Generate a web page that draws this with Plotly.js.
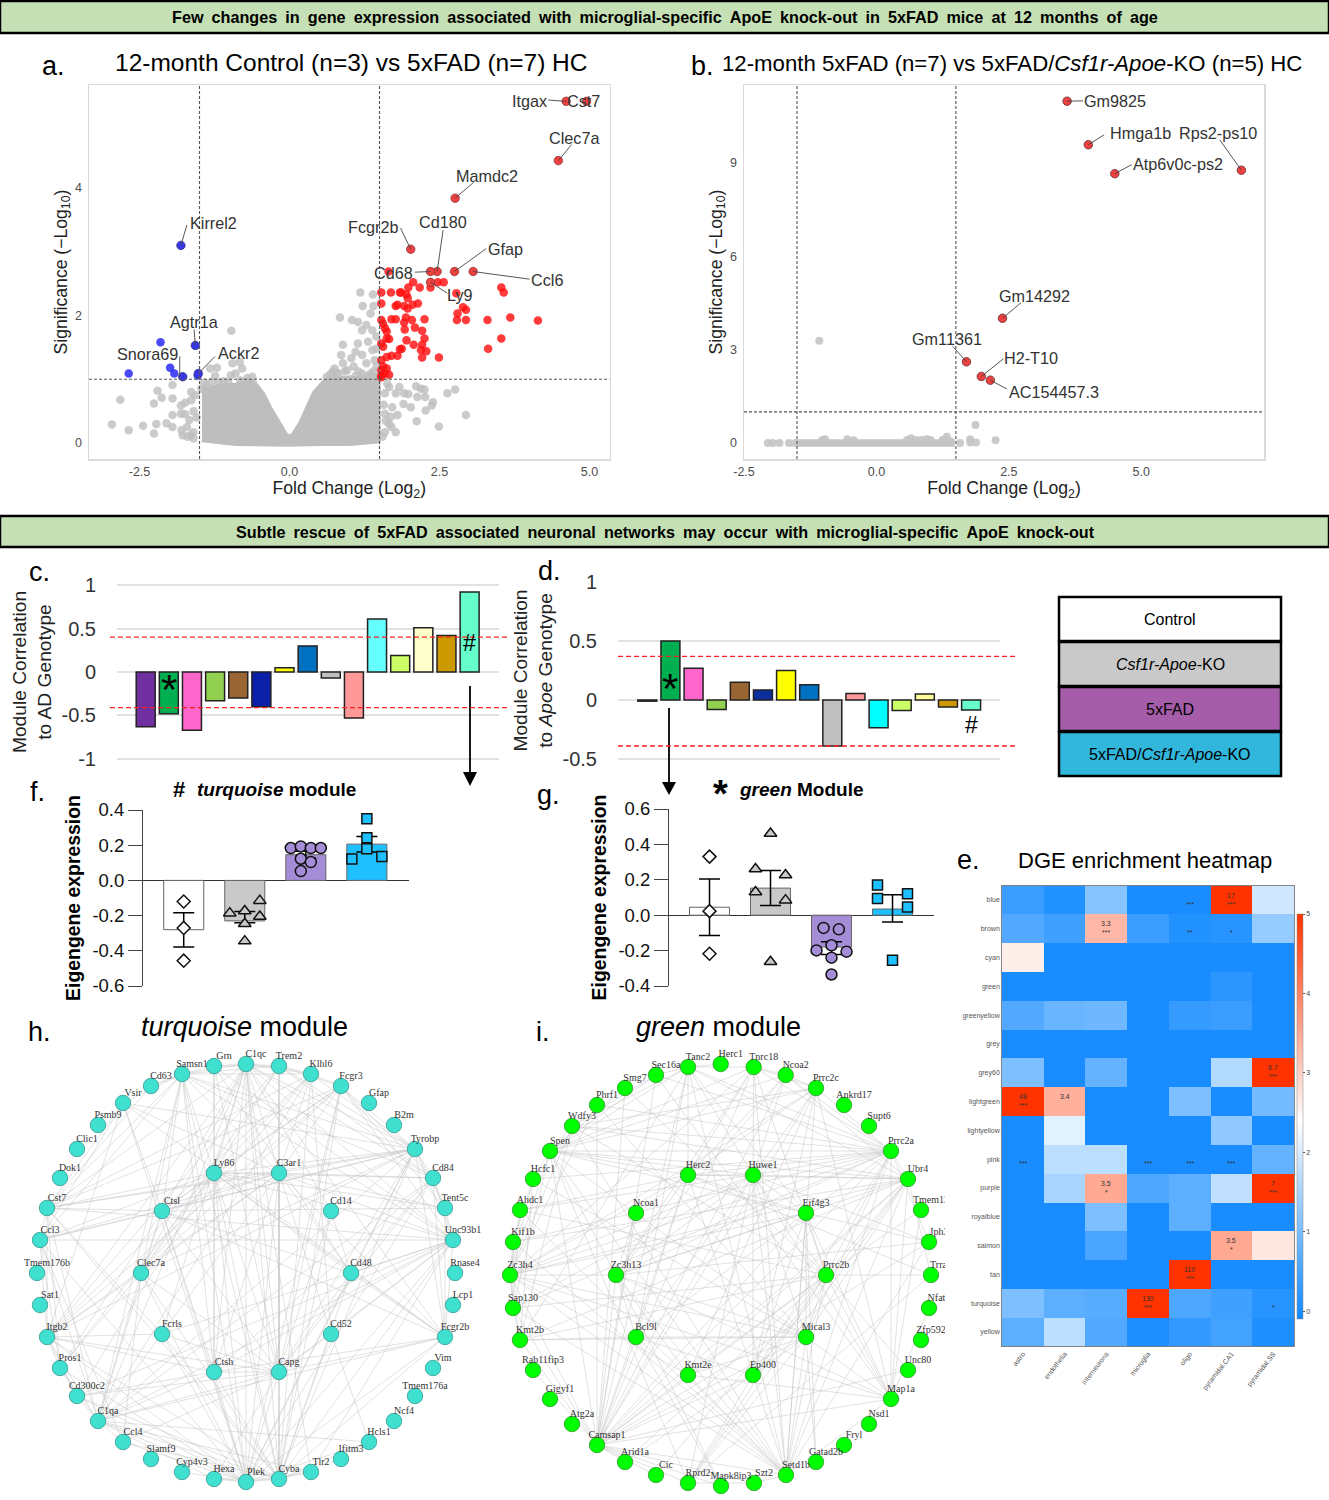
<!DOCTYPE html>
<html><head><meta charset="utf-8">
<script src="https://cdn.plot.ly/plotly-3.0.1.min.js"></script>
<style>html,body{margin:0;padding:0;background:#fff}#g{width:1329px;height:1500px}</style>
</head><body><div id="g"></div>
<script>
/* ---------- panel a : volcano ---------- */
const aRedX=[2.47,2.57,2.06,2.35,1.98,2.17,2.78,3.53,3.57,1.53,1.69,1.84,1.86,1.95,1.97,1.53,1.77,1.80,1.91,1.97,2.05,2.14,2.89,2.94,2.80,2.79,2.94,3.30,3.68,4.14,1.70,1.77,1.94,1.91,2.04,2.25,1.53,1.56,1.59,1.62,1.92,2.09,2.21,3.53,3.31,1.62,1.66,1.53,1.56,1.95,2.07,2.21,2.25,2.19,2.28,1.87,1.84,1.70,1.62,1.80,2.21,2.49,1.53,1.56,1.62,1.53,1.59,1.66,1.53,1.53,1.65];
const aRedY=[2.52,2.52,2.52,2.44,2.44,2.44,2.35,2.44,2.36,2.36,2.36,2.36,2.36,2.33,2.27,2.19,2.15,2.17,2.15,2.11,2.17,2.19,2.13,2.09,2.03,1.93,1.93,1.93,1.97,1.92,1.94,1.94,1.97,1.89,1.93,1.94,1.93,1.87,1.80,1.75,1.78,1.81,1.76,1.64,1.48,1.64,1.63,1.56,1.51,1.61,1.54,1.54,1.64,1.46,1.44,1.48,1.47,1.37,1.35,1.37,1.34,1.34,1.30,1.20,1.17,1.14,1.09,1.07,1.03,1.06,2.69];
const aBlueX=[-2.15,-2.68,-1.99,-1.92,-1.53];
const aBlueY=[1.58,1.09,1.18,1.09,1.06];
const aGenes=['Itgax','Cst7','Clec7a','Mamdc2','Fcgr2b','Cd180','Cd68','Gfap','Ccl6','Ly9'];
const aGenesX=[4.61,4.95,4.48,2.76,2.02,2.46,2.35,2.75,3.06,2.35];
const aGenesY=[5.36,5.36,4.43,3.84,3.04,2.69,2.69,2.69,2.69,2.52];
const aDownGenes=['Kirrel2','Agtr1a','Snora69','Ackr2'];
const aDownX=[-1.81,-1.57,-1.78,-1.52];
const aDownY=[3.10,1.53,1.04,1.09];
const aGrayX=[.84,1.04,1.18,1.39,1.22,1.40,1.35,1.14,1.28,1.21,1.38,1.45,1.14,1.31,1.45,1.38,1.21,1.10,.89,.86,1.03,.89,.75,1.07,1.28,1.42,1.21,.96,1.35,.79,1.45,1.44,1.2,1.0,.85,
.62,.68,.72,.8,.92,1.1,1.15,1.3,1.4,
-.97,-.83,-.95,-1.21,-1.32,-.9,-.79,-1.24,-.98,-.62,-.69,-1.47,
-1.42,-1.3,-1.1,-1.02,-.82,-.76,-.7,-.6,-1.18,-1.38,
-2.82,-2.96,-2.68,-2.44,-2.26,-2.22,-2.26,-2.13,-2.2,-1.95,-2.05,-1.95,-1.95,-1.81,-1.74,-1.78,-1.67,-1.64,-1.64,-1.74,-1.95,-1.81,-1.71,-1.6,-1.57,-1.6,-1.55,-1.6,-1.65,-1.7,-1.8,
2.19,2.11,2.25,2.76,2.63,2.26,2.13,2.39,2.37,2.27,2.94,2.49,2.12,2.02,1.9,1.91,1.98,1.83,1.66,1.63,1.77,1.71,1.69,1.8,1.66,1.59,1.77,1.7,1.59,1.59,1.55,1.6,1.57];
const aGrayY=[1.97,1.93,2.36,2.33,2.15,2.15,2.03,1.90,1.85,1.77,1.77,1.67,1.56,1.59,1.48,1.46,1.38,1.43,1.54,1.38,1.33,1.25,1.17,1.2,1.25,1.30,1.09,1.14,1.09,1.09,1.2,1.04,1.0,1.0,1.0,
1.04,1.08,1.12,1.1,1.12,1.05,1.12,1.05,1.12,
1.76,1.27,1.25,1.18,1.17,1.09,1.17,1.05,1.06,1.04,.96,.85,
.95,.96,.97,.95,.98,.96,1.02,.93,.95,.9,
.68,.29,.2,.27,.15,.3,.62,.71,.82,.91,.31,.25,.44,.46,.45,.12,.36,.8,.67,.63,.7,.59,.25,.17,.75,.07,.4,.5,.12,.1,.2,
.85,.89,.84,.84,.78,.72,.72,.64,.59,.51,.44,.26,.34,.56,.61,.78,.77,.88,.88,.93,.78,.56,.41,.44,.3,.17,.17,.25,.46,.78,.1,.35,.6];
const aCloudX=[-1.46,-1.15,-.9,-.64,-.55,-.45,-.34,-.2,-.07,0,.07,.19,.3,.42,.58,.72,1.0,1.47,1.47,1.0,.5,0,-.9,-1.46];
const aCloudY=[.82,.88,.9,.93,.88,.76,.55,.31,.12,.08,.12,.3,.53,.78,.95,1.0,1.0,1.02,.04,.0,0,-.01,0,.06];
/* ---------- panel b : volcano ---------- */
const bGenes=['Gm9825','Hmga1b','Atp6v0c-ps2','Rps2-ps10','Gm14292','Gm11361','H2-T10','AC154457.3'];
const bGenesX=[3.60,4.0,4.5,6.89,2.38,1.70,1.98,2.15];
const bGenesY=[10.99,9.59,8.66,8.77,4.01,2.61,2.14,2.02];
const bGrayX=[-1.08,1.87,2.25,1.77,1.77,1.88,1.58,-2.05,-1.96,-1.83,-1.65,-1.53,-1.02,-.97,-.55,-.43,.58,.65,.75,.85,.95,1.02,1.25,1.33,1.28,1.4];
const bGrayY=[3.29,.58,.09,.12,.02,.02,0,0,0,0,0,0,.1,.12,.12,.09,.1,.15,.1,.1,.12,.1,.1,.2,.1,.05];
const bBandX=[-1.5,1.48];
const bBandY=[0,0];
/* ---------- panels c, d : module correlations ---------- */
const modules=['purple','green','pink','yellowgreen','brown','midnightblue','yellow','blue','grey','salmon','cyan','greenyellow','lightyellow','darkgoldenrod','turquoise'];
const moduleColors=['#7030A0','#00B050','#FF66CC','#92D050','#996633','#0C1FA8','#FFFF00','#0070C0','#BFBFBF','#FF9999','#66FFFF','#CCFF66','#FFFFCC','#CC9900','#66FFCC'];
const moduleColorsD=['#7030A0','#00B050','#FF66CC','#92D050','#996633','#0C2FA0','#FFFF00','#0070C0','#BFBFBF','#FF9999','#00FFFF','#CCFF66','#FFFF99','#CC9900','#66FFCC'];
const corrAD=[-.63,-.48,-.67,-.33,-.30,-.40,.05,.30,-.07,-.53,.61,.19,.51,.42,.92];
const corrApoe=[-.01,.50,.27,-.08,.15,.085,.25,.13,-.39,.055,-.235,-.09,.05,-.06,-.085];
const corrTicksC=[1,.5,0,-.5,-1];
const corrTicksD=[1,.5,0,-.5];
const thrC=[.40,-.41];
const thrD=[.37,-.39];
/* ---------- panels f, g : eigengene bars ---------- */
const groups=[1,2,3,4];
const groupNames=['Control','Csf1r-Apoe-KO','5xFAD','5xFAD/Csf1r-Apoe-KO'];
const barColors=['#FFFFFF','#C9C9C9','#A58CD6','#1FC0FF'];
const fMean=[-.28,-.23,.146,.206];
const fErrUp=[.096,.054,.02,.044];
const fErrDown=[.099,.01,.02,.044];
const fCtrlX=[1,1,1],fCtrlY=[-.12,-.27,-.456];
const fKoX=[2.246,1.754,2,2.246,2,2],fKoY=[-.115,-.186,-.174,-.205,-.246,-.345];
const fFadX=[2.754,2.918,3.082,3.246,2.918,3.082,2.918],fFadY=[.184,.193,.184,.184,.123,.104,.053];
const fDkoX=[4,4,4,3.754,4.246],fDkoY=[.35,.242,.18,.121,.136];
const gMean=[.045,.153,-.18,.035];
const gErrUp=[.16,.099,.03,.08];
const gErrDown=[.159,.098,.042,.073];
const gCtrlX=[1,1,1],gCtrlY=[.331,.023,-.218];
const gKoX=[2,1.754,2.246,1.754,2.246,2],gKoY=[.462,.261,.227,.131,.085,-.263];
const gFadX=[2.87,3.12,3,2.754,3.246,3,3],gFadY=[-.072,-.08,-.17,-.199,-.206,-.24,-.335];
const gDkoX=[3.754,3.754,4.246,4.246,4],gDkoY=[.17,.095,.121,.047,-.254];
/* ---------- panel e : heatmap ---------- */
const heatCols=['astro','endothelia','interneurons','microglia','oligo','pyramidal.CA1','pyramidal.SS'];
const heatRows=['blue','brown','cyan','green','greenyellow','grey','grey60','lightgreen','lightyellow','pink','purple','royalblue','salmon','tan','turquoise','yellow'];
const heatZ=[
[.35,.1,1.15,0,0,17,1.9],
[.6,.4,3.3,.35,.1,.15,1.3],
[2.6,0,0,0,0,0,0],
[0,0,0,0,0,.2,0],
[.6,.85,.9,0,.3,.35,0],
[0,0,0,0,0,0,0],
[1.05,0,.8,0,0,1.6,6.7],
[48,3.4,0,0,1.05,0,.95],
[0,2.1,0,0,0,1.25,0],
[0,1.7,1.7,0,0,0,.8],
[0,1.5,3.5,.55,.7,1.75,7],
[0,0,1.05,0,.7,0,0],
[0,0,.5,0,0,3.5,2.7],
[0,0,0,0,110,0,0],
[1.05,.7,.65,130,.55,.4,.15],
[.7,1.7,.6,.05,.25,.45,.05]];
const heatNotes=[['blue','oligo','','***'],['blue','pyramidal.CA1','17','***'],['brown','interneurons','3.3','***'],['brown','oligo','','**'],['brown','pyramidal.CA1','','*'],['grey60','pyramidal.SS','6.7','***'],['lightgreen','astro','48','***'],['lightgreen','endothelia','3.4',''],['pink','astro','','***'],['pink','microglia','','***'],['pink','oligo','','***'],['pink','pyramidal.CA1','','***'],['purple','interneurons','3.5','*'],['purple','pyramidal.SS','7','***'],['salmon','pyramidal.CA1','3.5','*'],['tan','oligo','110','***'],['turquoise','microglia','130','***'],['turquoise','pyramidal.SS','','*']];
/* ---------- panels h, i : networks ---------- */
const hNames=['C1qc','Trem2','Klhl6','Fcgr3','Gfap','B2m','Tyrobp','Cd84','Tent5c','Unc93b1','Rnase4','Lcp1','Fcgr2b','Vim','Tmem176a','Ncf4','Hcls1','Ifitm3','Tlr2','Cyba','Plek','Hexa','Cyp4v3','Slamf9','Ccl4','C1qa','Cd300c2','Pros1','Itgb2','Sat1','Tmem176b','Ccl3','Cst7','Dok1','Clic1','Psmb9','Vsir','Cd63','Samsn1','Grn','Ly86','C3ar1','Cd14','Cd48','Cd52','Capg','Ctsh','Fcrls','Clec7a','Ctsl'];
const hX=[246,279,311,341,369,394,415,433,445,453,455,453,445,433,415,394,369,341,311,279,246,214,182,151,123,98,77,60,47,40,37,40,47,60,77,98,123,151,182,214,214,279,331,351,331,279,214,162,141,162];
const hY=[1064,1066,1074,1086,1103,1125,1149,1178,1208,1240,1273,1305,1337,1368,1396,1421,1442,1459,1472,1479,1482,1479,1472,1459,1442,1421,1396,1368,1337,1305,1273,1240,1208,1178,1149,1125,1103,1086,1074,1066,1173,1173,1211,1273,1334,1372,1372,1334,1273,1211];
const hEdges=[
"C1qc: Grn Samsn1 Trem2 Klhl6 Ly86 C3ar1 Ctsl Clec7a Fcrls Ctsh Capg Plek Cyba Tlr2 Cd14 Cd84 Tyrobp Unc93b1 Fcgr2b Itgb2 C1qa Cst7",
"Samsn1: Grn Cd63 Trem2 Klhl6 Ly86 Ctsl Ctsh Plek Cyba C3ar1 Cst7 Ccl3 Tyrobp Cd84 Unc93b1 Clec7a C1qa",
"Grn: Trem2 Ly86 Ctsh Cd48 Unc93b1 Capg",
"Trem2: Klhl6 Fcgr3 Tyrobp Cd84 Capg Cyba Ly86 Clec7a C3ar1 Itgb2",
"Klhl6: Fcgr3 Tyrobp C3ar1 Ly86 Clec7a Cd52 Cyba C1qa Ctsl Cst7",
"Fcgr3: Tyrobp Cd84 Ly86 C3ar1 Ctsl Clec7a Capg Cyba Plek Cst7 Itgb2 Unc93b1 Tent5c",
"Vsir: Samsn1 Ctsl Cst7 Ccl3 Plek C3ar1 Tyrobp Itgb2 Fcgr2b",
"Cd63: Samsn1 Cst7",
"Tyrobp: Cd84 Tent5c Unc93b1 Ly86 C3ar1 Ctsl Clec7a Itgb2 Cst7 Ccl3 Fcgr2b Cd48 Capg C1qa Cyba Plek",
"Cd84: Tent5c Unc93b1 Fcgr2b C3ar1 Ly86 Cd48 Capg C1qa Ctsh Plek",
"Tent5c: Unc93b1 Fcgr2b Ly86 Ctsl C3ar1",
"Unc93b1: Fcgr2b Cd48 Capg Ctsh Fcrls C1qa Ccl3 Cst7 C3ar1 Ly86 Cyba Plek Cd300c2 Tlr2",
"Fcgr2b: Cd48 Capg Ly86 Ctsh Plek Cyba C3ar1 C1qa Ctsl",
"Cd48: Ly86 C3ar1 Cd14 Capg Cyba Plek Ctsl",
"Ly86: C3ar1 Ctsl Clec7a Itgb2 Cst7 Pros1 Ccl3 Capg Ctsh Plek Cyba Cd300c2",
"C3ar1: Ctsl Clec7a Capg Cyba Plek Ctsh Itgb2 C1qa Cst7 Cd52 Ccl3",
"Ctsl: Clec7a Ctsh Capg Cst7 Ccl3 Plek Pros1 C1qa",
"Clec7a: Capg Plek Cyba Pros1 C1qa Ccl4 Itgb2",
"Capg: Ctsh Cyba Plek C1qa Cd52 Fcrls Hexa Ccl4 Cd300c2 Itgb2",
"Ctsh: Plek Cyba C1qa Cd300c2 Itgb2",
"Fcrls: Plek Cyba Cst7 Itgb2",
"Cst7: Ccl3 Itgb2 Pros1 C1qa Cyba",
"Ccl3: Ccl4 Pros1 Itgb2 Plek C1qa",
"Itgb2: Pros1 Cd300c2 C1qa Plek Cyba",
"Pros1: C1qa Cd300c2 Plek",
"Cd300c2: C1qa Plek Cyba",
"C1qa: Ccl4 Plek Cyba Hcls1 Hexa Tlr2",
"Ccl4: Plek Cyba",
"Plek: Cyba Hexa Tlr2 Cyp4v3 Hcls1",
"Cyba: Tlr2 Hcls1 Ifitm3 Cd52 Hexa",
"Cd52: Hcls1 Unc93b1",
"Cd14: Capg Cyba"];
const iNames=['Herc1','Tnrc18','Ncoa2','Prrc2c','Ankrd17','Supt6','Prrc2a','Ubr4','Tmem13','Jph3','Trrap','Nfat5','Zfp592','Unc80','Map1a','Nsd1','Fryl','Gatad2b','Setd1b','Szt2','Mapk8ip3','Rprd2','Cic','Arid1a','Camsap1','Atg2a','Gigyf1','Rab11fip3','Kmt2b','Sap130','Zc3h4','Kif1b','Ahdc1','Hcfc1','Spen','Wdfy3','Phrf1','Smg7','Sec16a','Tanc2','Herc2','Huwe1','Eif4g3','Prrc2b','Mical3','Ep400','Kmt2e','Bcl9l','Zc3h13','Ncoa1'];
const iX=[720.7,753.7,785.7,816,844,869,891,908,921,929,931,929,921,908,891,869,844,816,786,754,721,688,656,625,597,572,550,533,520,513,510,513,520,533,550,572,597,625,656,688,688,753,806,826,806,753,688,636,616,636];
const iY=[1064,1067,1075,1088,1105,1126,1151,1179,1210,1242,1275,1308,1340,1370,1399,1424,1445,1462,1475,1483,1486,1483,1475,1462,1445,1424,1399,1370,1340,1308,1275,1242,1210,1179,1151,1126,1105,1088,1075,1067,1175,1175,1213,1275,1337,1375,1375,1337,1275,1213];
const iEdges=[
"Tanc2: Herc1 Tnrc18 Sec16a Spen Wdfy3 Huwe1 Eif4g3 Camsap1 Setd1b Bcl9l Prrc2a Kmt2b Herc2 Ubr4",
"Tnrc18: Ncoa2 Prrc2c Camsap1 Spen Herc2 Zc3h13 Setd1b Prrc2b Huwe1 Prrc2a Zc3h4",
"Ncoa2: Prrc2c Prrc2a Ubr4 Camsap1 Herc2 Zc3h13 Spen Huwe1",
"Prrc2c: Prrc2a Spen Camsap1 Bcl9l Wdfy3 Zc3h4 Kmt2e Setd1b Ep400 Map1a Herc2",
"Sec16a: Spen Wdfy3 Camsap1 Prrc2a Map1a",
"Smg7: Spen Camsap1 Prrc2b",
"Phrf1: Zc3h4 Prrc2a Camsap1 Mical3",
"Wdfy3: Spen Zc3h4 Prrc2a Ubr4 Setd1b Prrc2b Kmt2b",
"Spen: Hcfc1 Zc3h4 Sap130 Herc2 Huwe1 Eif4g3 Prrc2a Ubr4 Setd1b Rprd2 Mical3 Camsap1 Zc3h13",
"Hcfc1: Zc3h4 Kif1b Prrc2a Mical3 Kmt2b",
"Ahdc1: Zc3h4 Huwe1 Prrc2b Setd1b Sap130 Herc2",
"Kif1b: Zc3h4 Sap130 Ubr4 Setd1b Prrc2a",
"Zc3h4: Sap130 Kmt2b Huwe1 Eif4g3 Mical3 Setd1b Ubr4 Prrc2a Camsap1 Zc3h13 Map1a Herc2 Kmt2e",
"Sap130: Kmt2b Camsap1 Prrc2a Huwe1 Prrc2b Setd1b",
"Kmt2b: Camsap1 Bcl9l Mical3 Ubr4 Prrc2b",
"Rab11fip3: Camsap1",
"Prrc2a: Ubr4 Herc2 Huwe1 Zc3h13 Prrc2b Mical3 Camsap1 Setd1b Map1a Ep400 Bcl9l Jph3",
"Ubr4: Huwe1 Herc2 Zc3h13 Prrc2b Mical3 Camsap1 Kmt2e Ep400 Setd1b Map1a Rprd2 Trrap",
"Tmem13: Prrc2b Map1a",
"Jph3: Huwe1 Zc3h13 Setd1b Camsap1 Eif4g3",
"Trrap: Prrc2b Rprd2 Herc2",
"Nfat5: Map1a",
"Unc80: Prrc2b Camsap1",
"Map1a: Huwe1 Prrc2b Mical3 Setd1b Camsap1 Kmt2e Eif4g3 Zc3h13",
"Gatad2b: Mical3 Eif4g3",
"Setd1b: Zc3h13 Huwe1 Mical3 Prrc2b Eif4g3 Bcl9l Kmt2e Camsap1 Herc2 Szt2",
"Szt2: Camsap1 Rprd2",
"Mapk8ip3: Camsap1 Bcl9l Zc3h13",
"Rprd2: Camsap1 Ep400 Mical3 Prrc2b Huwe1",
"Cic: Camsap1 Prrc2b",
"Arid1a: Camsap1 Ep400 Prrc2b",
"Camsap1: Bcl9l Zc3h13 Ncoa1 Herc2 Prrc2b Mical3 Ep400 Kmt2e Huwe1 Eif4g3",
"Bcl9l: Mical3 Zc3h13 Herc2 Ep400",
"Zc3h13: Herc2 Huwe1 Ncoa1 Eif4g3 Mical3 Kmt2e",
"Herc2: Huwe1 Ncoa1 Eif4g3",
"Huwe1: Eif4g3 Prrc2b Mical3 Ep400",
"Eif4g3: Prrc2b Mical3 Ep400",
"Prrc2b: Mical3 Ep400 Kmt2e",
"Mical3: Ep400 Kmt2e"];
/* ---------- legend & labels ---------- */
const legendLabels=['Control','<i>Csf1r-Apoe</i>-KO','5xFAD','5xFAD/<i>Csf1r-Apoe</i>-KO'];
const legendColors=['#FFFFFF','#C9C9C9','#A55CA9','#31B7DC'];

/* ---------- helpers (page layout only) ---------- */
const W=1329,H=1500;
const PX=x=>x/W, PY=y=>1-y/H;
const DX=(a,b)=>[a/W,b/W], DY=(t,b)=>[1-b/H,1-t/H];
const SANS='Liberation Sans', SERIF='Liberation Serif';
const shapes=[],annotations=[];
function text(s,x,y,size,o={}){annotations.push(Object.assign({text:s,x:PX(x),y:PY(y),xref:'paper',yref:'paper',showarrow:false,xanchor:'center',yanchor:'middle',font:{family:SANS,size:size,color:'#000'}},o));}
function box(x0,y0,x1,y1,fill,lw){shapes.push({type:'rect',xref:'paper',yref:'paper',x0:PX(x0),x1:PX(x1),y0:PY(y0),y1:PY(y1),fillcolor:fill,line:{color:'#000',width:lw},layer:'below'});}
function arrow(x,y0,y1,tip,hw){shapes.push({type:'line',xref:'paper',yref:'paper',x0:PX(x),x1:PX(x),y0:PY(y0),y1:PY(y1),line:{color:'#000',width:1.8}});
 shapes.push({type:'path',xref:'paper',yref:'paper',path:`M ${PX(x-hw)} ${PY(y1)} L ${PX(x+hw)} ${PY(y1)} L ${PX(x)} ${PY(tip)} Z`,fillcolor:'#000',line:{color:'#000',width:0}});}
function lead(xa,ya,p,q,r,s){shapes.push({type:'line',xref:xa,yref:ya,x0:p,y0:q,x1:r,y1:s,line:{color:'#444',width:.9}});}
function thresh(xa,ya,xs,yv){xs.forEach(v=>shapes.push({type:'line',xref:xa,yref:ya+' domain',x0:v,x1:v,y0:0,y1:1,line:{color:'#555',width:1.1,dash:'3px,2px'}}));
 shapes.push({type:'line',xref:xa+' domain',yref:ya,x0:0,x1:1,y0:yv,y1:yv,line:{color:'#555',width:1.1,dash:'3px,2px'}});}

/* banners */
box(0,1,1329,33,'#C5E0B4',2.5); box(0,516,1329,547,'#C5E0B4',2.5);
const wide=s=>s.split(' ').join('\u2002');
text(wide('Few changes in gene expression associated with microglial-specific ApoE knock-out in 5xFAD mice at 12 months of age'),664.5,17,16.2,{font:{family:SANS,size:16.2,color:'#000',weight:700}});
text(wide('Subtle rescue of 5xFAD associated neuronal networks may occur with microglial-specific ApoE knock-out'),665.5,532,16.2,{font:{family:SANS,size:16.2,color:'#000',weight:700}});
/* panel letters & titles */
[['a.',53,66],['b.',702,66],['c.',39,572],['d.',549,571],['e.',968,860],['f.',37,792],['g.',548,795],['h.',39,1032],['i.',543,1032]].forEach(l=>text(l[0],l[1],l[2],27));
text('12-month Control (n=3) vs 5xFAD (n=7) HC',351.5,62,24.5);
text('12-month 5xFAD (n=7) vs 5xFAD/<i>Csf1r-Apoe</i>-KO (n=5) HC',1011.5,63,22.2);
text('DGE enrichment heatmap',1145,860,22);
text('<i>turquoise</i> module',244.5,1027,27);
text('<i>green</i> module',719,1027,27);
text('#',179,790,22,{font:{family:SANS,size:22,color:'#000',weight:700}});
text('<i>turquoise</i> module',276,790,19,{font:{family:SANS,size:19,color:'#000',weight:700}});
text('*',720,794,38,{font:{family:SANS,size:38,color:'#000',weight:700}});
text('<i>green</i> Module',801.5,790,19,{font:{family:SANS,size:19,color:'#000',weight:700}});
/* arrows */
arrow(470,686,772,786,7); arrow(669,708,782,795,7);
/* legend */
legendLabels.forEach((t,i)=>{const y0=597+i*45; box(1059,y0,1281,y0+44,legendColors[i],2.5); text(t,1170,y0+22,16);});

/* volcano labels a */
const vt=(s,x,y)=>text(s,x,y,16.2,{font:{family:SANS,size:16.2,color:'#333'}});
[['Itgax',529,101],['Cst7',583,101],['Clec7a',574,138],['Mamdc2',487,176],['Fcgr2b',373,227],['Cd180',443,222],['Gfap',505,249],['Ccl6',547,280],['Cd68',393,273],['Ly9',460,295],['Kirrel2',213,223],['Agtr1a',194,322],['Snora69',147,354],['Ackr2',238,353],
 ['Gm9825',1115,101],['Hmga1b',1140,133],['Rps2-ps10',1218,133],['Atp6v0c-ps2',1178,164],['Gm14292',1034,296],['Gm11361',947,339],['H2-T10',1031,358],['AC154457.3',1054,392]].forEach(l=>vt(l[0],l[1],l[2]));
lead('x','y',4.61,5.36,4.31,5.38);lead('x','y',4.48,4.43,4.70,4.68);lead('x','y',2.76,3.84,3.07,4.09);lead('x','y',2.02,3.04,1.85,3.37);lead('x','y',2.46,2.69,2.56,3.34);lead('x','y',2.75,2.69,3.28,3.05);lead('x','y',3.06,2.69,4.0,2.57);lead('x','y',2.35,2.69,2.09,2.68);lead('x','y',2.35,2.52,2.63,2.35);lead('x','y',-1.81,3.10,-1.71,3.42);lead('x','y',-1.57,1.53,-1.59,1.78);lead('x','y',-1.83,1.04,-1.83,1.36);lead('x','y',-1.52,1.09,-1.24,1.36);
lead('x2','y2',3.6,10.99,3.9,11.0);lead('x2','y2',4.0,9.59,4.30,9.91);lead('x2','y2',6.89,8.77,6.48,9.75);lead('x2','y2',4.5,8.66,4.82,8.95);lead('x2','y2',2.38,4.01,2.73,4.51);lead('x2','y2',1.7,2.61,1.44,3.11);lead('x2','y2',1.98,2.14,2.40,2.71);lead('x2','y2',2.15,2.02,2.46,1.74);
thresh('x','y',[-1.5,1.5],1); thresh('x2','y2',[-1.5,1.5],1);

/* red thresholds c,d */
thrC.forEach(v=>shapes.push({type:'line',xref:'paper',yref:'y3',x0:PX(110),x1:PX(510),y0:v,y1:v,line:{color:'#FF2020',width:1.3,dash:'5px,3px'}}));
thrD.forEach(v=>shapes.push({type:'line',xref:'paper',yref:'y4',x0:PX(618),x1:PX(1016),y0:v,y1:v,line:{color:'#FF2020',width:1.3,dash:'5px,3px'}}));
annotations.push({text:'*',x:2,y:-.2,xref:'x3',yref:'y3',showarrow:false,font:{family:SANS,size:42,color:'#000'}});
annotations.push({text:'#',x:15,y:.33,xref:'x3',yref:'y3',showarrow:false,font:{family:SANS,size:23,color:'#000'}});
annotations.push({text:'*',x:2,y:.1,xref:'x4',yref:'y4',showarrow:false,font:{family:SANS,size:42,color:'#000'}});
annotations.push({text:'#',x:15,y:-.21,xref:'x4',yref:'y4',showarrow:false,font:{family:SANS,size:23,color:'#000'}});

/* heatmap notes */
heatNotes.forEach(n=>{
 if(n[2])annotations.push({text:n[2],x:n[1],y:n[0],xref:'x7',yref:'y7',yshift:5,showarrow:false,font:{family:SANS,size:7,color:'#333'}});
 if(n[3])annotations.push({text:n[3],x:n[1],y:n[0],xref:'x7',yref:'y7',yshift:-4,showarrow:false,font:{family:SANS,size:7,color:'#333'}});
});

/* edges */
function edgeLines(lines,names,xs,ys){const ex=[],ey=[];lines.forEach(l=>{const [a,rest]=l.split(': ');const i=names.indexOf(a);rest.split(' ').forEach(b=>{const j=names.indexOf(b);if(j<0||i<0)return;ex.push(xs[i],xs[j],null);ey.push(ys[i],ys[j],null);});});return {ex,ey};}

const traces=[];
/* a */
traces.push({type:'scatter',mode:'lines',x:aCloudX,y:aCloudY,fill:'toself',fillcolor:'#BEBEBE',line:{color:'#BEBEBE',width:6},xaxis:'x',yaxis:'y',name:'NS cloud',showlegend:false});
traces.push({type:'scatter',mode:'markers',x:aGrayX,y:aGrayY,marker:{color:'#BEBEBE',size:8.5,opacity:.8},xaxis:'x',yaxis:'y',showlegend:false});
traces.push({type:'scatter',mode:'markers',x:aRedX,y:aRedY,marker:{color:'#FF1010',size:8.5,opacity:.82},xaxis:'x',yaxis:'y',showlegend:false});
traces.push({type:'scatter',mode:'markers',x:aBlueX,y:aBlueY,marker:{color:'#2A2AF5',size:8.5,opacity:.85},xaxis:'x',yaxis:'y',showlegend:false});
traces.push({type:'scatter',mode:'markers',x:aGenesX,y:aGenesY,text:aGenes,marker:{color:'#F04040',size:8.5,line:{color:'#7a3030',width:.7}},xaxis:'x',yaxis:'y',showlegend:false});
traces.push({type:'scatter',mode:'markers',x:aDownX,y:aDownY,text:aDownGenes,marker:{color:'#3838E8',size:8.5,line:{color:'#303070',width:.7}},xaxis:'x',yaxis:'y',showlegend:false});
/* b */
traces.push({type:'scatter',mode:'lines',x:bBandX,y:bBandY,line:{color:'#C4C4C4',width:7.5},xaxis:'x2',yaxis:'y2',showlegend:false});
traces.push({type:'scatter',mode:'markers',x:bGrayX,y:bGrayY,marker:{color:'#C4C4C4',size:8,opacity:.9},xaxis:'x2',yaxis:'y2',showlegend:false});
traces.push({type:'scatter',mode:'markers',x:bGenesX,y:bGenesY,text:bGenes,marker:{color:'#F04040',size:8.5,line:{color:'#5a3030',width:.8}},xaxis:'x2',yaxis:'y2',showlegend:false});
/* c,d */
const idx=modules.map((m,i)=>i+1);
traces.push({type:'bar',x:idx,y:corrAD,text:modules,textposition:'none',width:.82,marker:{color:moduleColors,line:{color:'#222',width:1.5}},xaxis:'x3',yaxis:'y3',showlegend:false});
traces.push({type:'bar',x:idx,y:corrApoe,text:modules,textposition:'none',width:.82,marker:{color:moduleColorsD,line:{color:'#222',width:1.5}},xaxis:'x4',yaxis:'y4',showlegend:false});
/* f,g */
function barSet(mean,up,down,xa,ya){traces.push({type:'bar',x:groups,y:mean,text:groupNames,textposition:'none',width:.656,marker:{color:barColors,line:{color:'#666',width:1}},error_y:{type:'data',symmetric:false,array:up,arrayminus:down,color:'#000',thickness:1.5,width:10.5},xaxis:xa,yaxis:ya,showlegend:false});}
function pts(x,y,sym,col,size,xa,ya){traces.push({type:'scatter',mode:'markers',x:x,y:y,cliponaxis:false,marker:{symbol:sym,color:col,size:size,line:{color:'#111',width:1.5}},xaxis:xa,yaxis:ya,showlegend:false});}
barSet(fMean,fErrUp,fErrDown,'x5','y5');
pts(fCtrlX,fCtrlY,'diamond','#FFFFFF',10,'x5','y5');pts(fKoX,fKoY,'triangle-up','#C9C9C9',11,'x5','y5');pts(fFadX,fFadY,'circle','#A58CD6',11,'x5','y5');pts(fDkoX,fDkoY,'square','#1FC0FF',10,'x5','y5');
barSet(gMean,gErrUp,gErrDown,'x6','y6');
pts(gCtrlX,gCtrlY,'diamond','#FFFFFF',10,'x6','y6');pts(gKoX,gKoY,'triangle-up','#C9C9C9',11,'x6','y6');pts(gFadX,gFadY,'circle','#A58CD6',11,'x6','y6');pts(gDkoX,gDkoY,'square','#1FC0FF',10,'x6','y6');
/* e */
traces.push({type:'heatmap',x:heatCols,y:heatRows,z:heatZ,zmin:-.1,zmax:5,xgap:0,ygap:0,colorscale:[[0,'#0F88FF'],[.49,'#FFFFFF'],[1,'#FF3300']],xaxis:'x7',yaxis:'y7',
 colorbar:{x:PX(1297),xanchor:'left',y:PY(1116.5),yanchor:'middle',lenmode:'pixels',len:405,thicknessmode:'pixels',thickness:6,xpad:0,ypad:0,tickvals:[0,1,2,3,4,5],ticks:'outside',ticklen:2,tickcolor:'#555',tickfont:{family:SANS,size:7,color:'#444'},outlinewidth:.5,outlinecolor:'#888'}});
/* h,i */
function network(lines,names,xs,ys,col,lineCol,xa,ya){
 const e=edgeLines(lines,names,xs,ys);
 traces.push({type:'scatter',mode:'lines',x:e.ex,y:e.ey,line:{color:'rgba(195,195,195,.48)',width:1},xaxis:xa,yaxis:ya,showlegend:false});
 traces.push({type:'scatter',mode:'markers',x:xs,y:ys,text:names,marker:{color:col,size:15.5,line:{color:lineCol,width:.7}},xaxis:xa,yaxis:ya,showlegend:false});
 traces.push({type:'scatter',mode:'text',x:xs.map(v=>v+10),y:ys.map(v=>v-10),text:names,textposition:'middle center',textfont:{family:SERIF,size:10,color:'#333'},xaxis:xa,yaxis:ya,showlegend:false});
}
network(hEdges,hNames,hX,hY,'#40E0D0','#2c8f86','x8','y8');
network(iEdges,iNames,iX,iY,'#00FF00','#2c8a2c','x9','y9');

const volcAxis=(dom,range,anchor,tv,tt,title,standoff,tickLen)=>({domain:dom,range:range,anchor:anchor,tickvals:tv,ticktext:tt,showgrid:false,zeroline:false,showline:true,mirror:true,linecolor:'#DADADA',linewidth:1.5,ticks:'outside',ticklen:tickLen,tickcolor:'rgba(0,0,0,0)',tickfont:{family:SANS,size:12.5,color:'#4D4D4D'},title:{text:title,standoff:standoff,font:{family:SANS,size:17.6,color:'#222'}}});
const hide=(dom,range,anchor)=>({domain:dom,range:range,anchor:anchor,visible:false,fixedrange:true});
const corrY=(dom,range,anchor,tv,title)=>({domain:dom,range:range,anchor:anchor,tickvals:tv,ticktext:tv.map(String),showgrid:true,gridcolor:'#E2E2E2',gridwidth:2,zeroline:true,zerolinecolor:'#E2E2E2',zerolinewidth:2,showline:false,ticks:'outside',ticklen:16,tickcolor:'rgba(0,0,0,0)',tickfont:{family:SANS,size:20,color:'#333'},title:{text:title,standoff:4,font:{family:SANS,size:19.2,color:'#222'}}});
const eigenY=(dom,range,anchor,tv,title)=>({domain:dom,range:range,anchor:anchor,tickvals:tv,ticktext:tv.map(v=>v.toFixed(1)),showgrid:false,zeroline:true,zerolinecolor:'#333',zerolinewidth:1,showline:true,linecolor:'#444',linewidth:1,ticks:'outside',ticklen:14,tickcolor:'#444',tickwidth:1,tickfont:{family:SANS,size:18.5,color:'#111'},title:{text:title,standoff:6,font:{family:SANS,size:19.4,color:'#000',weight:700}}});

const layout={width:W,height:H,margin:{l:0,r:0,t:0,b:0},paper_bgcolor:'#fff',plot_bgcolor:'rgba(0,0,0,0)',showlegend:false,barmode:'overlay',font:{family:SANS},hovermode:false,shapes:shapes,annotations:annotations,
 xaxis:volcAxis(DX(89,609.5),[-3.342,5.333],'y',[-2.5,0,2.5,5],['-2.5','0.0','2.5','5.0'],'Fold Change (Log<sub>2</sub>)',1,0),
 yaxis:volcAxis(DY(85,459),[-.251,5.616],'x',[0,2,4],['0','2','4'],'Significance (−Log<sub>10</sub>)',3,3),
 xaxis2:volcAxis(DX(744,1264),[-2.5,7.317],'y2',[-2.5,0,2.5,5],['-2.5','0.0','2.5','5.0'],'Fold Change (Log<sub>2</sub>)',1,0),
 yaxis2:volcAxis(DY(85,459),[-.514,11.51],'x2',[0,3,6,9],['0','3','6','9'],'Significance (−Log<sub>10</sub>)',3,3),
 xaxis3:hide(DX(117,499),[-.24,16.27],'y3'),
 yaxis3:corrY(DY(584,760),[-1.012,1.012],'x3',corrTicksC,'Module Correlation<br>to AD Genotype'),
 xaxis4:hide(DX(618,1000),[-.267,16.25],'y4'),
 yaxis4:corrY(DY(581,760),[-.5085,1.0085],'x4',corrTicksD,'Module Correlation<br>to <i>Apoe</i> Genotype'),
 xaxis5:{domain:DX(143,409),range:[.333,4.69],anchor:'y5',visible:false},
 yaxis5:eigenY(DY(810,986),[-.6,.4],'x5',[.4,.2,0,-.2,-.4,-.6],'Eigengene expression'),
 xaxis6:{domain:DX(669,934),range:[.336,4.68],anchor:'y6',visible:false},
 yaxis6:eigenY(DY(809,986),[-.4,.6],'x6',[.6,.4,.2,0,-.2,-.4],'Eigengene expression'),
 xaxis7:{domain:DX(1002,1294),anchor:'y7',type:'category',categoryarray:heatCols,categoryorder:'array',ticks:'',tickangle:-52,tickfont:{family:SANS,size:7,color:'#555'},showline:true,mirror:true,linecolor:'#666',linewidth:.8,showgrid:false,zeroline:false},
 yaxis7:{domain:DY(885.6,1346.4),anchor:'x7',type:'category',categoryarray:heatRows,categoryorder:'array',autorange:'reversed',ticks:'',tickfont:{family:SANS,size:7,color:'#555'},showline:true,mirror:true,linecolor:'#666',linewidth:.8,showgrid:false,zeroline:false},
 xaxis8:hide(DX(0,500),[0,500],'y8'),
 yaxis8:hide(DY(1045,1500),[1500,1045],'x8'),
 xaxis9:hide(DX(490,945),[490,945],'y9'),
 yaxis9:hide(DY(1045,1500),[1500,1045],'x9')
};
Plotly.newPlot('g',traces,layout,{displayModeBar:false,staticPlot:true});
</script></body></html>
